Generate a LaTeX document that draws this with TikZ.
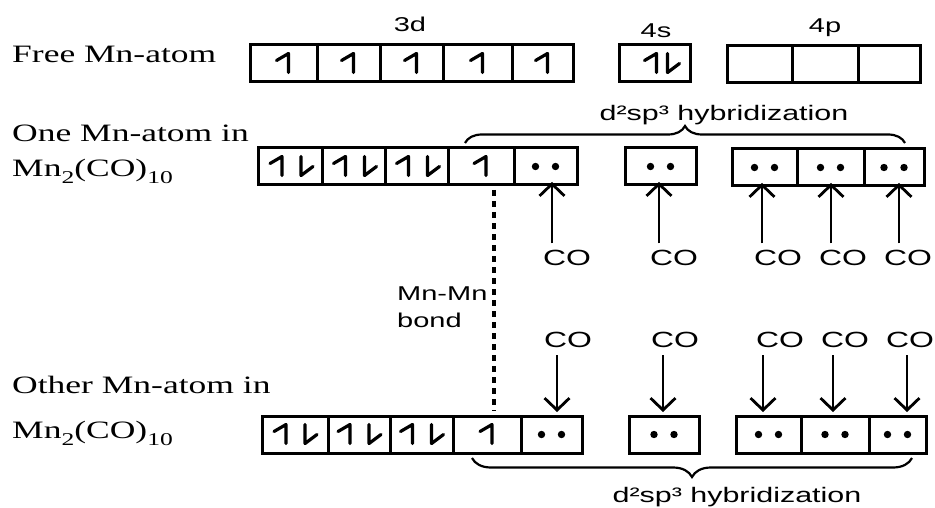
\documentclass[tikz,border=0pt]{standalone}
\usepackage{fontspec}
\usetikzlibrary{arrows.meta,decorations.pathreplacing,calc}
\newfontfamily\serifw[FakeStretch=1.42]{Liberation Serif}
\newfontfamily\sansw[FakeStretch=1.45]{Liberation Sans}
\newcommand{\orb}[5]{\pgfmathsetmacro{\orbw}{#3-#2}\pgfmathsetmacro{\orbh}{#5-#4}%
  \node[orbbox, minimum width=\orbw pt, minimum height=\orbh pt] (#1) at ({(#2+#3)/2},{(#4+#5)/2}) {};}
\newcommand{\hup}[2]{\draw[harp] ($(#1.center)+(#2,9)$) -- ++(0,-19) -- ++(-12,7);}
\newcommand{\hdn}[2]{\draw[harp] ($(#1.center)+(#2,-10)$) -- ++(0,19) -- ++(12,-9);}
\newcommand{\epair}[1]{\fill ($(#1.center)+(-10,0)$) circle[radius=3.7pt]; \fill ($(#1.center)+(10,0)$) circle[radius=3.7pt];}
\newcommand{\subn}[1]{\raisebox{-7pt}{\fontsize{18}{18}\selectfont #1}}
\begin{document}
\begin{tikzpicture}[x=1pt,y=-1pt,
  orbbox/.style={draw, line width=3pt, inner sep=0pt, outer sep=0pt},
  harp/.style={line width=3.2pt, line cap=round, line join=round},
  lbl/.style={font={\serifw\fontsize{25}{25}\selectfont}, anchor=base west, inner sep=0pt},
  slbl/.style={font={\sansw\fontsize{20}{20}\selectfont}, anchor=base, inner sep=0pt},
  hyb/.style={font={\sansw\fontsize{21}{21}\selectfont}, anchor=base, inner sep=0pt},
  co/.style={font={\sansw\fontsize{22}{22}\selectfont}, anchor=base, inner sep=0pt},
  coarr/.style={line width=2.8pt, -{Straight Barb[length=12pt,width=25pt]}},
  brc/.style={line width=2.2pt, decorate, decoration={brace, amplitude=#1}},
  mnbond/.style={line width=4.5pt, dash pattern=on 6pt off 5pt}
]
\useasboundingbox (0,0) rectangle (935,508);
\fill[white] (0,0) rectangle (935,508);

% left labels
\node[lbl] (l1) at (12,63) {Free Mn-atom};
\node[lbl] (l2) at (12,142) {One Mn-atom in};
\node[lbl] (l3) at (12,177) {Mn\subn{2}(CO)\subn{10}};
\node[lbl] (l4) at (12,393) {Other Mn-atom in};
\node[lbl] (l5) at (12,438) {Mn\subn{2}(CO)\subn{10}};

% subshell labels
\node[slbl] (t3d) at (410,32) {3d};
\node[slbl] (t4s) at (656,38) {4s};
\node[slbl] (t4p) at (825,33) {4p};

% row 1
\orb{a1}{250}{317}{45}{82}\orb{a2}{317}{380}{45}{82}\orb{a3}{380}{443}{45}{82}
\orb{a4}{443}{512}{45}{82}\orb{a5}{512}{573}{45}{82}
\orb{a6}{619}{690}{45}{82}
\orb{a7}{727}{792}{46}{83}\orb{a8}{792}{858}{46}{83}\orb{a9}{858}{920}{46}{83}
\foreach \n in {a1,a2,a3,a4,a5}{\hup{\n}{5}}
\hup{a6}{2}\hdn{a6}{13}

% row 2
\orb{b1}{258}{322}{148}{185}\orb{b2}{322}{385}{148}{185}\orb{b3}{385}{448}{148}{185}
\orb{b4}{448}{514}{148}{185}\orb{b5}{514}{577}{148}{185}
\orb{b6}{625}{696}{148}{185}
\orb{b7}{732}{797}{149}{186}\orb{b8}{797}{864}{149}{186}\orb{b9}{864}{924}{149}{186}
\foreach \n in {b1,b2,b3}{\hup{\n}{-8}\hdn{\n}{11}}
\hup{b4}{5}
\foreach \n in {b5,b6,b7,b8,b9}{\epair{\n}}

% row 3
\orb{c1}{262}{328}{416}{453}\orb{c2}{328}{390}{416}{453}\orb{c3}{390}{453}{416}{453}
\orb{c4}{453}{521}{416}{453}\orb{c5}{521}{582}{416}{453}
\orb{c6}{629}{699}{416}{453}
\orb{c7}{736}{801}{416}{453}\orb{c8}{801}{869}{416}{453}\orb{c9}{869}{926}{416}{453}
\foreach \n in {c1,c2,c3}{\hup{\n}{-9}\hdn{\n}{10}}
\hup{c4}{5}
\foreach \n in {c5,c6,c7,c8,c9}{\epair{\n}}

% braces and hybridization labels
\draw[brc=17pt] (465,143) -- (905,143);
\node[hyb] (h1) at (724,121) {d²sp³ hybridization};
\draw[brc=19pt] (912,458) -- (472,458);
\node[hyb] (h2) at (737,502) {d²sp³ hybridization};

% CO ligands, upper molecule
\node[co] (u5) at (567,265) {CO};
\node[co] (u6) at (674,265) {CO};
\node[co] (u7) at (778,265) {CO};
\node[co] (u8) at (843,265) {CO};
\node[co] (u9) at (908,265) {CO};
\draw[coarr] ([xshift=-15pt,yshift=6pt]u5.north) -- ([xshift=-15pt]u5.north |- b5.south) -- ++(0,-3);
\draw[coarr] ([xshift=-15pt,yshift=6pt]u6.north) -- ([xshift=-15pt]u6.north |- b6.south) -- ++(0,-3);
\draw[coarr] ([xshift=-16pt,yshift=6pt]u7.north) -- ([xshift=-16pt]u7.north |- b7.south) -- ++(0,-3);
\draw[coarr] ([xshift=-12pt,yshift=6pt]u8.north) -- ([xshift=-12pt]u8.north |- b8.south) -- ++(0,-3);
\draw[coarr] ([xshift=-9pt,yshift=6pt]u9.north) -- ([xshift=-9pt]u9.north |- b9.south) -- ++(0,-3);

% CO ligands, lower molecule
\node[co] (d5) at (568,347) {CO};
\node[co] (d6) at (675,347) {CO};
\node[co] (d7) at (780,347) {CO};
\node[co] (d8) at (845,347) {CO};
\node[co] (d9) at (910,347) {CO};
\draw[coarr] ([xshift=-11pt,yshift=-8pt]d5.south) -- ([xshift=-11pt,yshift=4pt]d5.south |- c5.north);
\draw[coarr] ([xshift=-12pt,yshift=-8pt]d6.south) -- ([xshift=-12pt,yshift=4pt]d6.south |- c6.north);
\draw[coarr] ([xshift=-17pt,yshift=-8pt]d7.south) -- ([xshift=-17pt,yshift=4pt]d7.south |- c7.north);
\draw[coarr] ([xshift=-12pt,yshift=-8pt]d8.south) -- ([xshift=-12pt,yshift=4pt]d8.south |- c8.north);
\draw[coarr] ([xshift=-3pt,yshift=-8pt]d9.south) -- ([xshift=-3pt,yshift=4pt]d9.south |- c9.north);

% Mn-Mn bond
\coordinate (bt) at (494,190);
\coordinate (bb) at (494,411);
\draw[mnbond] (bt) -- (bb);
\node[font={\sansw\fontsize{20}{20}\selectfont}, anchor=base west, inner sep=0pt] (mm1) at (397,300) {Mn-Mn};
\node[font={\sansw\fontsize{20}{20}\selectfont}, anchor=base west, inner sep=0pt] (mm2) at (397,327) {bond};
\end{tikzpicture}
\end{document}
